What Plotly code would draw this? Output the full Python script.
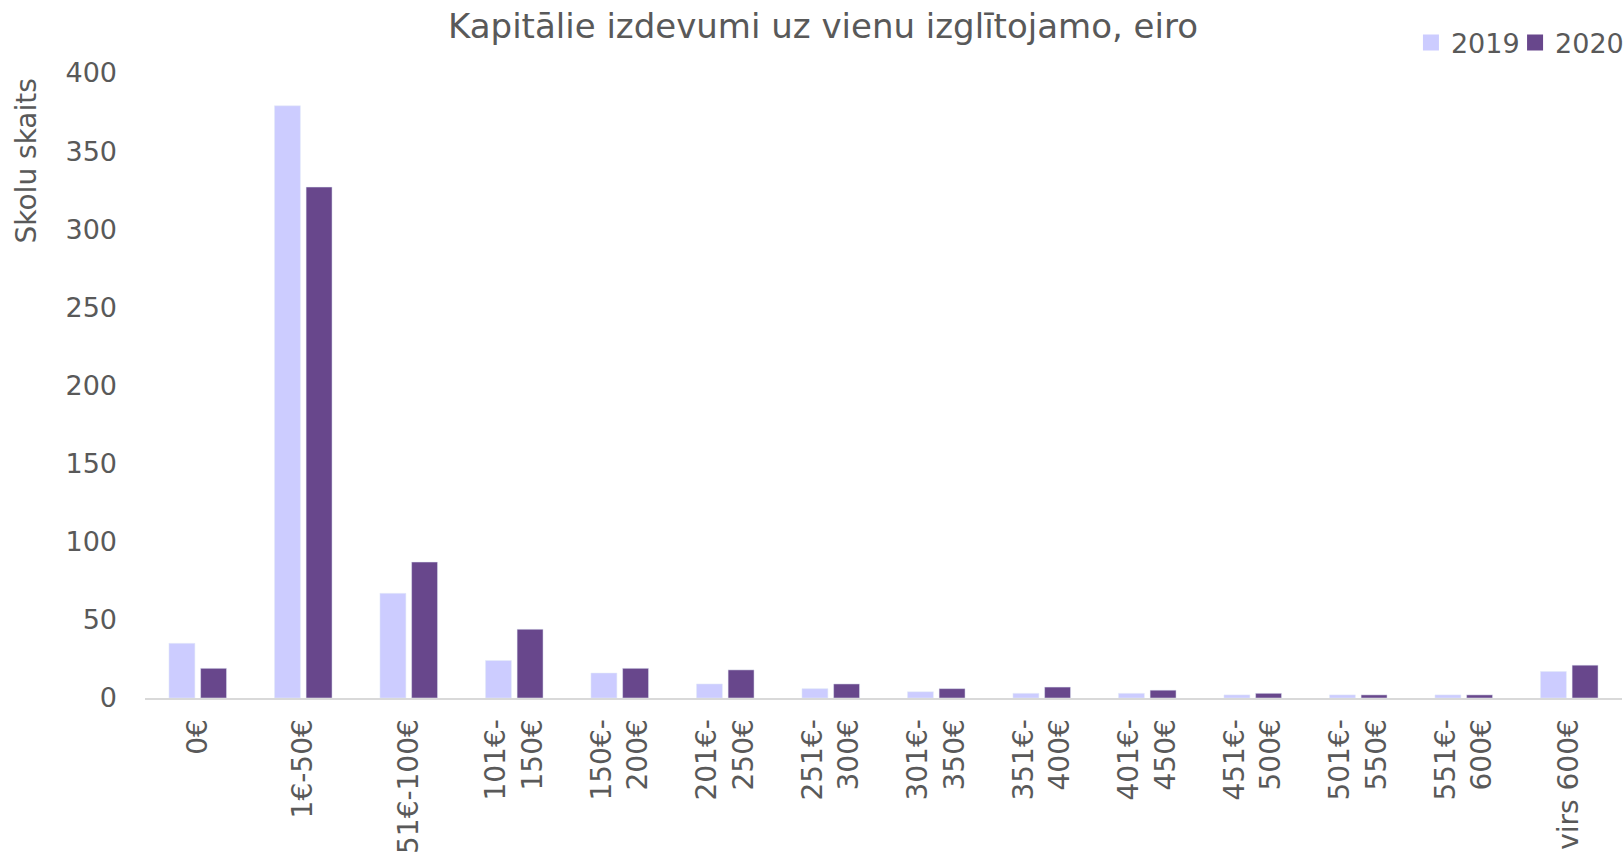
import plotly.graph_objects as go

categories = ["0€", "1€-50€", "51€-100€", "101€-<br>150€", "150€-<br>200€", "201€-<br>250€",
              "251€-<br>300€", "301€-<br>350€", "351€-<br>400€", "401€-<br>450€",
              "451€-<br>500€", "501€-<br>550€", "551€-<br>600€", "virs 600€"]
values_2019 = [35, 379, 67, 24, 16, 9, 6, 4, 3, 3, 2, 2, 2, 17]
values_2020 = [19, 327, 87, 44, 19, 18, 9, 6, 7, 5, 3, 2, 2, 21]
y_ticks = [0, 50, 100, 150, 200, 250, 300, 350, 400]
series_names = ["2019", "2020"]
series_colors = ["#CCCCFF", "#68478C"]

TXT = "#595959"
FONT = "DejaVu Sans"

fig = go.Figure()
for name, vals, col in zip(series_names, [values_2019, values_2020], series_colors):
    fig.add_trace(go.Bar(name=name, x=categories, y=vals, marker_color=col,
                         showlegend=False))
# legend entries with larger square swatches, one legend box per entry
for name, col, lg in zip(series_names, series_colors, ["legend", "legend2"]):
    fig.add_trace(go.Scatter(name=name, x=[None], y=[None], mode="markers",
                             marker=dict(symbol="square", size=16, color=col),
                             showlegend=True, legend=lg))

legend_common = dict(orientation="h", xanchor="left", y=1.048, yanchor="middle",
                     font=dict(size=27, color=TXT, family=FONT),
                     bgcolor="rgba(0,0,0,0)")

fig.update_layout(
    width=1624, height=855,
    paper_bgcolor="white", plot_bgcolor="white",
    margin=dict(l=145, r=2, t=73, b=157, autoexpand=False),
    barmode="group", bargap=0.40, bargroupgap=0.18,
    font=dict(family=FONT, color=TXT, size=27),
    title=dict(text="Kapitālie izdevumi uz vienu izglītojamo, eiro",
               x=823 / 1624, xanchor="center",
               xref="container", y=1 - 26 / 855, yanchor="middle", yref="container",
               font=dict(family=FONT, size=34, color=TXT)),
    legend=dict(x=0.8571, **legend_common),
    legend2=dict(x=0.9276, **legend_common),
    showlegend=True,
    annotations=[dict(text="Skolu skaits", textangle=-90, xref="paper", yref="paper",
                      x=0, y=1, xanchor="center", yanchor="top", xshift=-119, yshift=-4,
                      showarrow=False, font=dict(size=28, color=TXT, family=FONT))],
)
fig.update_xaxes(showline=True, linecolor="#D9D9D9", linewidth=2, showgrid=False,
                 tickangle=-90, ticks="", tickfont=dict(size=28, color=TXT),
                 automargin=False, ticklabelstandoff=8)
fig.update_yaxes(range=[0, 400], tickvals=y_ticks, showgrid=False, zeroline=False,
                 showline=False, ticks="", tickfont=dict(size=27, color=TXT),
                 automargin=False, ticklabelstandoff=27)

fig.write_html("out.html", config={"displayModeBar": False},
               post_script="document.body.style.margin='0';document.body.style.overflow='hidden';")
